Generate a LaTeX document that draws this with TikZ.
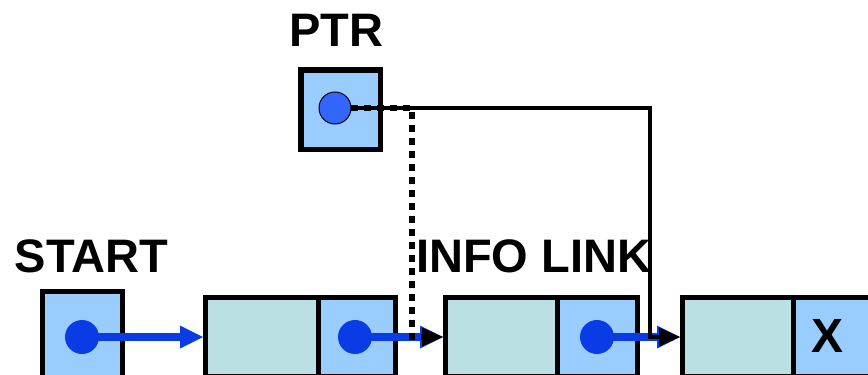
\documentclass[tikz,border=0pt]{standalone}
\usepackage{fontspec}
\setmainfont{Liberation Sans}
\usetikzlibrary{arrows.meta}
\definecolor{cellblue}{HTML}{99CCFF}
\definecolor{cellteal}{HTML}{BBE0E3}
\definecolor{dotblue}{HTML}{0A3CE6}
\definecolor{ptrblue}{HTML}{3366FF}
\begin{document}
\begin{tikzpicture}[x=1pt,y=-1pt,
  cell/.style={draw=black, line width=5pt, inner sep=0pt, minimum height=79pt},
  infocell/.style={cell, fill=cellteal},
  linkcell/.style={cell, fill=cellblue},
  varbox/.style={draw=black, line width=5.5pt, fill=cellblue, inner sep=0pt},
  dot/.style={circle, fill=dotblue, inner sep=0pt, minimum size=34pt},
  ptrdot/.style={circle, fill=ptrblue, draw=black, line width=1pt, inner sep=0pt, minimum size=32pt},
  label/.style={inner sep=0pt, font=\fontsize{47}{50}\selectfont\bfseries},
  bluearrow/.style={draw=dotblue, line width=8pt,
    -{Triangle[length=23pt, width=23pt, fill=dotblue, color=dotblue, line width=0pt]}},
  blacktip/.style={-{Triangle[length=21pt, width=19pt, fill=black, color=black, line width=0pt]}},
  ptrline/.style={draw=black, line width=4pt, blacktip},
  ptrdots/.style={draw=black, line width=6pt, dash pattern=on 6.5pt off 6.5pt, blacktip}]
\useasboundingbox (0,0) rectangle (868,375);

% list cells
\node[infocell, minimum width=112.5pt] (n1i) at (261.75,337) {};
\node[linkcell, minimum width=77.5pt] (n1l) at (356.75,337) {};
\node[infocell, minimum width=111.5pt] (n2i) at (501.25,337) {};
\node[linkcell, minimum width=80.5pt] (n2l) at (597.25,337) {};
\node[infocell, minimum width=110.5pt] (n3i) at (737.75,337) {};
\node[linkcell, minimum width=87pt] (n3l) at (836.5,337) {};
\node[label, font=\fontsize{48}{50}\selectfont\bfseries] (xmark) at (828,336) {X};

% START and PTR variables
\node[varbox, minimum width=80pt, minimum height=91pt] (start) at (82.5,337) {};
\node[varbox, minimum width=79.5pt, minimum height=79.5pt] (ptr) at (340.5,109.5) {};
\node[dot] (c0) at (82,337) {};
\node[dot] (c1) at (355,337) {};
\node[dot] (c2) at (597,337) {};

% labels
\node[label] (ptrlabel) at (336,30) {PTR};
\node[label] (startlabel) at (91.5,256.5) {START};
\node[label] (infolink) at (533.5,256.5) {INFO LINK};

% links between the cells
\draw[bluearrow] (c0.center) -- (n1i.west);
\draw[bluearrow] (c1.center) -- (n1l.east) -- (n2i.west);
\draw[bluearrow] (c2.center) -- (n2l.east) -- (n3i.west);

% PTR pointer: old link (dotted) and new link (solid)
\coordinate (dbend) at (412,337);
\coordinate (sbend) at (650,337);
\coordinate (pc) at (335,108);
\coordinate (pcout) at (351,108);
\draw[ptrline] (pcout) -| (sbend) -- (n3i.west);
\draw[ptrdots] (pcout) -| (dbend) -- (n2i.west);
\node[ptrdot] (pcircle) at (pc) {};
\end{tikzpicture}
\end{document}
